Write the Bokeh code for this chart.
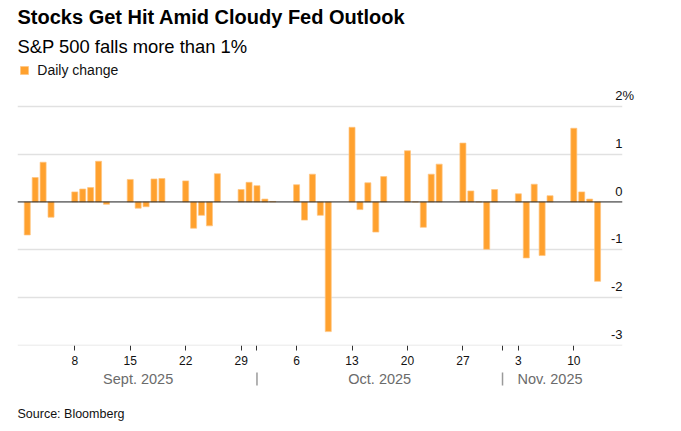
import pandas as pd
from bokeh.plotting import figure
from bokeh.models import (ColumnDataSource, FixedTicker, CustomJSTickFormatter, Span,
                          Legend, LegendItem, Range1d)
from bokeh.core.properties import value
from bokeh.embed import file_html
from bokeh.resources import INLINE

# ---------------- data ----------------
dates = [
    "2025-09-02", "2025-09-03", "2025-09-04", "2025-09-05",
    "2025-09-08", "2025-09-09", "2025-09-10", "2025-09-11", "2025-09-12",
    "2025-09-15", "2025-09-16", "2025-09-17", "2025-09-18", "2025-09-19",
    "2025-09-22", "2025-09-23", "2025-09-24", "2025-09-25", "2025-09-26",
    "2025-09-29", "2025-09-30", "2025-10-01", "2025-10-02", "2025-10-03",
    "2025-10-06", "2025-10-07", "2025-10-08", "2025-10-09", "2025-10-10",
    "2025-10-13", "2025-10-14", "2025-10-15", "2025-10-16", "2025-10-17",
    "2025-10-20", "2025-10-21", "2025-10-22", "2025-10-23", "2025-10-24",
    "2025-10-27", "2025-10-28", "2025-10-29", "2025-10-30", "2025-10-31",
    "2025-11-03", "2025-11-04", "2025-11-05", "2025-11-06", "2025-11-07",
    "2025-11-10", "2025-11-11", "2025-11-12", "2025-11-13",
]
daily_change = [
    -0.69, 0.51, 0.83, -0.32,
    0.21, 0.27, 0.30, 0.85, -0.05,
    0.47, -0.13, -0.10, 0.48, 0.49,
    0.44, -0.55, -0.28, -0.50, 0.59,
    0.26, 0.41, 0.34, 0.06, 0.01,
    0.36, -0.38, 0.58, -0.28, -2.71,
    1.56, -0.16, 0.40, -0.63, 0.53,
    1.07, 0.00, -0.53, 0.58, 0.79,
    1.23, 0.23, 0.00, -0.99, 0.26,
    0.17, -1.17, 0.37, -1.12, 0.13,
    1.54, 0.21, 0.06, -1.66,
]
week_ticks = ["2025-09-08", "2025-09-15", "2025-09-22", "2025-09-29", "2025-10-06",
              "2025-10-13", "2025-10-20", "2025-10-27", "2025-11-03", "2025-11-10"]
month_starts = ["2025-10-01", "2025-11-01"]
month_names = ["Sept. 2025", "Oct. 2025", "Nov. 2025"]
month_label_at = ["2025-09-16 00:00", "2025-10-16 12:00", "2025-11-07 00:00"]
y_ticks = [-3, -2, -1, 0, 1, 2]
y_tick_labels = ["-3", "-2", "-1", "0", "1", "2%"]

TITLE = "Stocks Get Hit Amid Cloudy Fed Outlook"
SUBTITLE = "S&P 500 falls more than 1%"
SOURCE = "Source: Bloomberg"
SERIES = "Daily change"

FONT = "Liberation Sans"
ORANGE = "#ffa12e"
GRID = "#e1e1e1"

# ---------------- figure ----------------
x_start = pd.Timestamp("2025-09-01") - pd.Timedelta(hours=5.6)
x_end = x_start + pd.Timedelta(days=76.38)
y_start, y_end = -3, 3.06

p = figure(width=681, height=431, x_axis_type="datetime",
           x_range=Range1d(x_start, x_end), y_range=Range1d(y_start, y_end),
           output_backend="svg", toolbar_location=None,
           min_border_left=17, min_border_right=59, min_border_top=55, min_border_bottom=86)
p.outline_line_color = None
p.background_fill_color = "white"
p.border_fill_color = "white"

src = ColumnDataSource(dict(x=pd.to_datetime(dates), top=daily_change))
bars = p.vbar(x="x", top="top", bottom=0, width=0.76 * 86400000, source=src,
              fill_color=ORANGE, line_color="#ffc47f", line_width=0.7)

# grid
p.xgrid.visible = False
p.yaxis.visible = False
p.ygrid.ticker = FixedTicker(ticks=[t for t in y_ticks if t != 0])
p.ygrid.grid_line_color = GRID
p.ygrid.grid_line_width = 1.5
# bottom gridline sits on the frame edge
p.add_layout(Span(location=min(y_ticks), dimension="width", line_color=GRID, line_width=1.5))
p.add_layout(Span(location=0, dimension="width", line_color="#1a1a1a", line_width=1))

# x axis
tick_ms = [pd.Timestamp(d).value / 1e6 for d in week_ticks + month_starts]
ax = p.xaxis[0]
ax.ticker = FixedTicker(ticks=tick_ms)
ax.formatter = CustomJSTickFormatter(code="""
    const d = new Date(tick);
    return d.getUTCDay() === 1 ? String(d.getUTCDate()) : "";
""")
ax.axis_line_color = None
ax.major_tick_in = 0
ax.major_tick_out = 5
ax.major_tick_line_color = "#333333"
ax.minor_tick_line_color = None
ax.major_label_text_font = FONT
ax.major_label_text_font_size = "12px"
ax.major_label_text_color = "#111111"
ax.major_label_standoff = 5

# month labels and separators (below the axis)
p.text(x=pd.to_datetime(month_label_at, format="%Y-%m-%d %H:%M"), y=[y_start] * len(month_names),
       text=month_names, text_font=value(FONT), text_font_size="14.5px", text_color="#6b6b6b",
       text_align="center", text_baseline="middle", y_offset=33, level="overlay")
p.segment(x0=pd.to_datetime(month_starts), x1=pd.to_datetime(month_starts),
          y0=[-3.564] * len(month_starts), y1=[-3.836] * len(month_starts),
          line_color="#9a9a9a", line_width=1.5, level="overlay")

# y tick labels (right, above gridlines)
ysrc = ColumnDataSource(dict(
    x=[x_end] * len(y_ticks), y=y_ticks, text=y_tick_labels,
    xo=[11.5 if "%" in t else 0 for t in y_tick_labels]))
p.text(x="x", y="y", text="text", source=ysrc, x_offset="xo", y_offset=-10.8,
       text_font=value(FONT), text_font_size="13px", text_color="#111111",
       text_align="right", text_baseline="middle", level="overlay")

# legend
legend = Legend(items=[LegendItem(label=SERIES, renderers=[bars])],
                location=(2.3, 267.3), orientation="horizontal",
                glyph_width=10, glyph_height=10, label_standoff=8, label_height=10,
                padding=0, margin=0, spacing=0, border_line_color=None,
                background_fill_alpha=0, label_text_font=FONT,
                label_text_font_size="14px", label_text_color="#111111")
p.add_layout(legend)

# titles and source (anchored at the frame's corners, offset in pixels)
p.text(x=[x_start], y=[y_end], text=[TITLE], y_offset=-39,
       text_font=value(FONT), text_font_style="bold", text_font_size="20px",
       text_color="#000000", text_align="left", text_baseline="middle", level="overlay")
p.text(x=[x_start], y=[y_end], text=[SUBTITLE], y_offset=-9.5,
       text_font=value(FONT), text_font_size="18.4px",
       text_color="#000000", text_align="left", text_baseline="middle", level="overlay")
p.text(x=[x_start], y=[y_start], text=[SOURCE], y_offset=68.8,
       text_font=value(FONT), text_font_size="12.5px",
       text_color="#111111", text_align="left", text_baseline="middle", level="overlay")

open("out.html", "w").write(file_html(p, INLINE))
